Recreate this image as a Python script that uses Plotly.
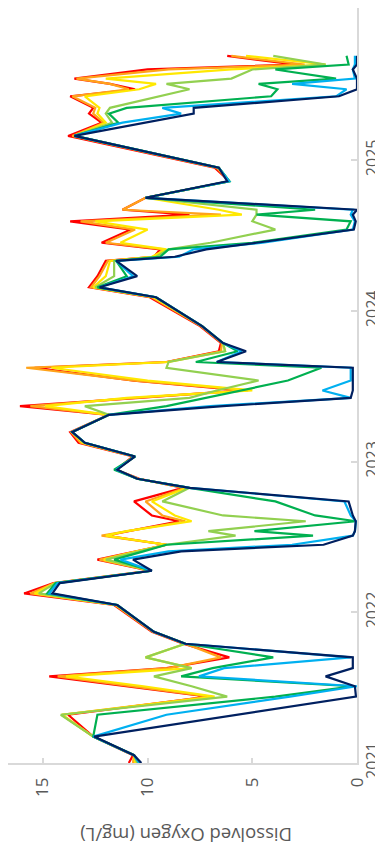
import plotly.graph_objects as go

dates = [
    "2021-01-01", "2021-01-20", "2021-03-06", "2021-04-28", "2021-06-11", "2021-07-06",
    "2021-07-30", "2021-08-19", "2021-09-14", "2021-10-17", "2021-11-15",
    "2022-01-19", "2022-02-16", "2022-03-13", "2022-04-12",
    "2022-05-09", "2022-05-29", "2022-06-14", "2022-07-06", "2022-07-17", "2022-08-10",
    "2022-08-24", "2022-09-27", "2022-10-30",
    "2022-11-21", "2022-12-13", "2023-01-14", "2023-02-16", "2023-03-14",
    "2023-04-25", "2023-05-16", "2023-06-05", "2023-06-23", "2023-07-17", "2023-08-17",
    "2023-08-31", "2023-09-26", "2023-10-16", "2023-11-26",
    "2024-02-04", "2024-02-28", "2024-03-26", "2024-05-02", "2024-05-12", "2024-05-30",
    "2024-06-15", "2024-07-17", "2024-08-06", "2024-08-22", "2024-09-03", "2024-10-02",
    "2024-11-11", "2024-12-14",
    "2025-03-01", "2025-04-02", "2025-04-24", "2025-05-08", "2025-06-05", "2025-06-22",
    "2025-07-05", "2025-07-18", "2025-08-09", "2025-08-21", "2025-09-11",
]

red = [10.9, 10.7, 12.6, 13.8, 7.1, 11.1, 14.7, 9.1, 6.1, 8.3, 9.8,
       11.6, 15.9, 14.5, 9.9,
       12.4, 10.6, 9.1, 12.0, 10.9, 8.5, 9.8, 10.65, 8.3,
       10.4, 11.5, 10.7, 13.3, 13.7,
       11.85, 16.1, 10.4, 5.5, 10.65, 15.4, 9.1, 6.6, 6.5, 7.5,
       9.9, 12.8, 12.4, 12.0, 9.7, 9.4, 12.2, 10.8, 13.7, 8.0, 11.2, 10.1, 6.1, 6.8,
       13.8, 12.2, 12.8, 12.6, 13.7, 10.6, 11.8, 13.5, 10.0, 3.0, 6.2]

orange = [10.7, 10.65, 12.6, 14.1, 7.0, 10.6, 14.3, 9.0, 6.5, 8.2, 9.75,
          11.55, 15.6, 14.45, 9.85,
          12.3, 10.6, 9.1, 12.2, 11.0, 8.2, 9.3, 10.1, 8.2,
          10.45, 11.5, 10.65, 13.2, 13.65,
          11.85, 15.6, 10.6, 5.2, 10.6, 15.8, 9.1, 6.5, 6.45, 7.45,
          9.8, 12.7, 12.3, 11.9, 9.7, 9.2, 12.0, 10.6, 13.2, 6.5, 11.2, 10.1, 6.1, 6.7,
          13.6, 12.1, 12.6, 12.5, 13.6, 10.9, 11.8, 13.4, 9.0, 2.5, 6.0]

yellow = [10.6, 10.65, 12.6, 14.1, 6.8, 10.2, 13.9, 7.9, 10.1, 8.2, 9.7,
          11.5, 15.4, 14.4, 9.8,
          12.1, 10.5, 9.1, 12.0, 11.0, 7.9, 8.7, 9.8, 8.1,
          10.5, 11.5, 10.6, 13.1, 13.6,
          11.85, 14.9, 11.0, 5.0, 10.0, 14.6, 9.0, 6.3, 6.4, 7.4,
          9.7, 12.6, 12.0, 11.8, 9.8, 9.1, 11.3, 10.0, 12.5, 5.5, 6.6, 10.1, 6.1, 6.6,
          13.5, 12.0, 12.4, 12.3, 13.0, 10.4, 9.6, 12.0, 6.0, 1.5, 5.3]

yellow_green = [10.5, 10.65, 12.6, 14.15, 6.2, 7.9, 9.7, 7.9, 10.1, 8.2, 9.7,
                11.45, 15.2, 14.4, 9.8,
                12.0, 10.4, 9.1, 5.8, 7.1, 2.45, 6.4, 9.3, 8.0,
                10.5, 11.5, 10.6, 13.0, 13.6,
                11.85, 13.0, 8.0, 6.7, 4.7, 9.1, 9.0, 6.3, 6.4, 7.4,
                9.6, 12.5, 11.6, 11.6, 9.6, 9.0, 7.0, 3.9, 5.0, 4.8, 4.8, 10.1, 6.1, 6.6,
                13.5, 11.7, 12.0, 11.8, 9.5, 8.0, 9.1, 6.0, 5.0, 1.5, 4.0]

green = [10.4, 10.65, 12.6, 12.4, 3.9, 0.2, 8.4, 6.9, 4.0, 8.2, 9.7,
         11.45, 14.8, 14.4, 9.8,
         11.6, 10.2, 9.1, 2.1, 4.9, 0.05, 2.0, 3.9, 8.0,
         10.5, 11.6, 10.6, 13.0, 13.6,
         11.85, 9.1, 7.2, 5.6, 3.3, 1.7, 7.7, 5.7, 6.4, 7.4,
         9.6, 12.4, 11.0, 11.5, 9.4, 9.0, 5.0, 0.5, 0.3, 4.8, 2.0, 10.1, 6.1, 6.6,
         13.5, 11.4, 11.85, 11.0, 4.1, 3.8, 4.7, 1.0, 3.9, 0.4, 0.5]

light_blue = [10.4, 10.65, 12.6, 9.1, 3.2, 0.0, 7.55, 6.35, 0.3, 8.2, 9.7,
              11.45, 14.7, 14.3, 9.8,
              11.3, 9.0, 3.1, 0.2, 0.1, 0.05, 0.3, 0.6, 8.0,
              10.5, 11.5, 10.6, 13.0, 13.6,
              11.85, 7.0, 0.3, 1.65, 0.3, 0.3, 6.7, 5.5, 6.4, 7.4,
              9.6, 12.3, 10.7, 11.5, 8.5, 7.8, 4.5, 0.2, 0.1, 0.3, 0.2, 10.1, 6.1, 6.6,
              13.5, 11.2, 8.4, 9.3, 1.0, 0.5, 3.1, 0.1, 0.2, 0.1, 0.1]

navy = [10.3, 10.65, 12.56, 5.8, 0.05, 0.1, 1.5, 0.2, 0.2, 8.2, 9.7,
        11.45, 14.55, 14.2, 9.8,
        10.7, 8.4, 1.6, 0.2, 0.1, 0.06, 0.2, 0.4, 8.0,
        10.5, 11.45, 10.6, 13.0, 13.6,
        11.85, 6.4, 0.3, 0.2, 0.2, 0.2, 6.7, 5.3, 6.4, 7.4,
        9.6, 12.3, 10.5, 11.5, 8.7, 7.2, 4.8, 0.15, 0.06, 0.2, 0.0, 10.1, 6.2, 6.6,
        13.5, 10.1, 7.8, 7.8, 0.86, 0.0, 0.0, 0.0, 0.2, 0.0, 0.0]

series = [red, orange, yellow, yellow_green, green, light_blue, navy]
colors = ["#FF0000", "#FFA31A", "#FFE800", "#92D050", "#00B050", "#00B0F0", "#002060"]

year_ticks = ["2021-01-01", "2022-01-01", "2023-01-01", "2024-01-01", "2025-01-01"]
year_labels = ["2021", "2022", "2023", "2024", "2025"]
do_ticks = [0, 5, 10, 15]

fig = go.Figure()
for vals, col in zip(series, colors):
    fig.add_trace(go.Scatter(x=vals, y=dates, mode="lines",
                             line=dict(color=col, width=2.2), showlegend=False))

axis_gray = "#d9d9d9"
fig.update_layout(
    width=383, height=852,
    margin=dict(l=0, r=34, t=0, b=97),
    paper_bgcolor="white", plot_bgcolor="white",
    font=dict(family="Open Sans", color="#595959", size=17),
)
fig.update_xaxes(range=[16.67, 0], tickvals=do_ticks, tickangle=-90,
                 ticks="inside", ticklen=5, tickcolor=axis_gray, tickwidth=1.5,
                 showline=True, linecolor=axis_gray, linewidth=1.5,
                 showgrid=False, zeroline=False, ticklabelstandoff=6)
fig.update_yaxes(type="date", range=["2021-01-01", "2026-01-05"], side="right",
                 tickvals=year_ticks, ticktext=year_labels, tickangle=-90,
                 tickfont=dict(size=16),
                 ticks="inside", ticklen=6, tickcolor=axis_gray, tickwidth=1.5,
                 showline=True, linecolor=axis_gray, linewidth=1.5,
                 showgrid=False, zeroline=False, ticklabelstandoff=0)
fig.add_annotation(text="Dissolved Oxygen (mg/L)", textangle=180,
                   xref="paper", yref="paper", x=0.51, y=-0.096,
                   xanchor="center", yanchor="middle", showarrow=False,
                   font=dict(family="Open Sans", size=18.5, color="#595959"))

fig.write_html("out.html")
